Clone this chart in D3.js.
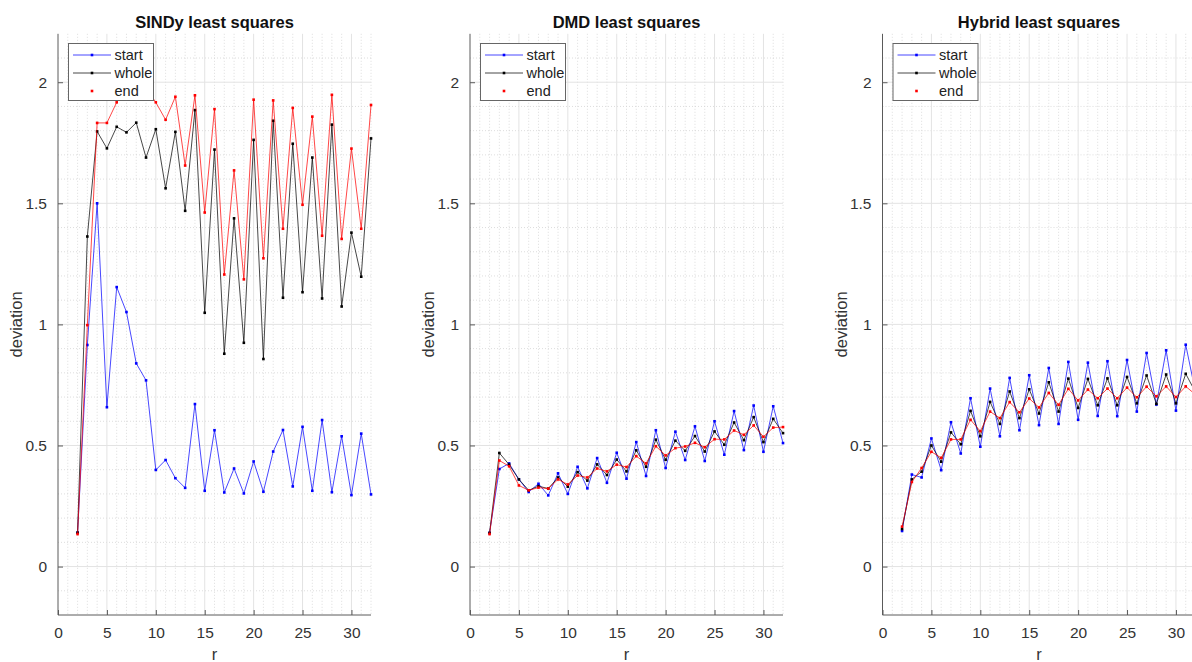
<!DOCTYPE html>
<html>
<head>
<meta charset="utf-8">
<script src="https://cdn.jsdelivr.net/npm/d3@7"></script>
<style>
  body { margin: 0; background: #fff; }
  svg { display: block; font-family: "Liberation Sans", Arial, sans-serif; }
</style>
</head>
<body>
<div class="fig"></div>
<script>
// r values 2..32
const rValues = [2,3,4,5,6,7,8,9,10,11,12,13,14,15,16,17,18,19,20,21,22,23,24,25,26,27,28,29,30,31,32];

// SINDy least squares
const sindyStart = [0.14,0.915,1.50,0.658,1.154,1.051,0.839,0.769,0.399,0.440,0.365,0.325,0.671,0.313,0.563,0.306,0.405,0.302,0.434,0.309,0.475,0.564,0.331,0.577,0.313,0.605,0.307,0.538,0.295,0.549,0.298];
const sindyWhole = [0.14,1.363,1.797,1.727,1.816,1.793,1.833,1.689,1.806,1.562,1.795,1.469,1.885,1.048,1.722,0.879,1.438,0.924,1.762,0.857,1.841,1.110,1.746,1.133,1.689,1.107,1.825,1.074,1.379,1.197,1.768];
const sindyEnd = [0.134,0.997,1.832,1.832,1.917,1.985,2.01,1.975,1.917,1.845,1.940,1.656,1.946,1.462,1.889,1.206,1.636,1.186,1.928,1.273,1.925,1.395,1.894,1.494,1.858,1.366,1.948,1.353,1.726,1.395,1.906];

// DMD least squares
const dmdStart = [0.139,0.403,0.426,0.360,0.308,0.342,0.294,0.385,0.300,0.412,0.323,0.448,0.346,0.470,0.363,0.514,0.374,0.563,0.407,0.557,0.440,0.579,0.436,0.600,0.462,0.642,0.481,0.665,0.474,0.662,0.510];
const dmdWhole = [0.139,0.469,0.421,0.360,0.315,0.332,0.322,0.368,0.330,0.390,0.355,0.422,0.378,0.442,0.393,0.480,0.412,0.524,0.441,0.520,0.478,0.539,0.475,0.558,0.503,0.595,0.522,0.617,0.514,0.610,0.551];
const dmdEnd = [0.134,0.438,0.414,0.335,0.315,0.326,0.322,0.360,0.339,0.376,0.368,0.405,0.393,0.421,0.411,0.456,0.426,0.497,0.459,0.489,0.496,0.511,0.493,0.526,0.525,0.562,0.544,0.583,0.536,0.574,0.576];

// Hybrid least squares
const hybridStart = [0.147,0.380,0.368,0.529,0.398,0.596,0.467,0.695,0.495,0.735,0.538,0.779,0.563,0.790,0.584,0.820,0.589,0.845,0.606,0.842,0.622,0.848,0.621,0.853,0.640,0.882,0.669,0.893,0.644,0.916,0.72];
const hybridWhole = [0.155,0.360,0.392,0.500,0.433,0.554,0.505,0.643,0.538,0.680,0.589,0.723,0.613,0.732,0.632,0.761,0.640,0.776,0.655,0.775,0.666,0.777,0.666,0.783,0.674,0.789,0.672,0.793,0.674,0.796,0.72];
const hybridEnd = [0.165,0.349,0.407,0.474,0.449,0.525,0.525,0.606,0.559,0.640,0.613,0.679,0.637,0.694,0.657,0.717,0.668,0.734,0.686,0.731,0.695,0.735,0.695,0.739,0.699,0.743,0.703,0.744,0.700,0.744,0.71];

const panelTitles = ['SINDy least squares', 'DMD least squares', 'Hybrid least squares'];
const seriesNames = ['start', 'whole', 'end'];
const seriesColors = ['#0000ff', '#000000', '#ff0000'];
const xTicks = [0,5,10,15,20,25,30];
const yTicks = [0,0.5,1,1.5,2];

const panels = [
  [sindyStart, sindyWhole, sindyEnd],
  [dmdStart, dmdWhole, dmdEnd],
  [hybridStart, hybridWhole, hybridEnd]
];

// 画布
const width = 1192, height = 662;
const panelLeft = [58, 470, 882.5];
const panelW = 313;
const plotTop = 33.8, plotBottom = 615;

const svg = d3.select('.fig').append('svg')
  .attr('width', width)
  .attr('height', height);

const y = d3.scaleLinear().domain([-0.2, 2.2]).range([plotBottom, plotTop]);

panels.forEach((series, p) => {
  const x = d3.scaleLinear().domain([0, 32]).range([panelLeft[p], panelLeft[p] + panelW]);
  const g = svg.append('g');

  // minor grid (dotted)
  const minorX = d3.range(1, 33).filter(v => v % 5 !== 0);
  const minorY = d3.range(-1, 22).map(v => v / 10).filter(v => Math.abs(v * 2 - Math.round(v * 2)) > 1e-6);
  g.selectAll('.mx').data(minorX).enter().append('line')
    .attr('x1', d => x(d)).attr('x2', d => x(d))
    .attr('y1', plotTop).attr('y2', plotBottom)
    .attr('stroke', '#d4d4d4').attr('stroke-width', 0.8)
    .attr('stroke-dasharray', '1,2');
  g.selectAll('.my').data(minorY).enter().append('line')
    .attr('x1', x(0)).attr('x2', x(32))
    .attr('y1', d => y(d)).attr('y2', d => y(d))
    .attr('stroke', '#d4d4d4').attr('stroke-width', 0.8)
    .attr('stroke-dasharray', '1,2');

  // major grid
  g.selectAll('.gx').data(xTicks.filter(v => v > 0)).enter().append('line')
    .attr('x1', d => x(d)).attr('x2', d => x(d))
    .attr('y1', plotTop).attr('y2', plotBottom)
    .attr('stroke', '#e3e3e3').attr('stroke-width', 1);
  g.selectAll('.gy').data(yTicks).enter().append('line')
    .attr('x1', x(0)).attr('x2', x(32))
    .attr('y1', d => y(d)).attr('y2', d => y(d))
    .attr('stroke', '#e3e3e3').attr('stroke-width', 1);

  // axes (ticks inward)
  const xAxis = g.append('g').attr('transform', `translate(0,${plotBottom})`)
    .call(d3.axisBottom(x).tickValues(xTicks).tickSize(-5).tickPadding(12).tickFormat(d3.format('d')));
  const yAxis = g.append('g').attr('transform', `translate(${x(0)},0)`)
    .call(d3.axisLeft(y).tickValues(yTicks).tickSize(-5).tickPadding(11).tickFormat(d => d));
  [xAxis, yAxis].forEach(a => {
    a.select('.domain').attr('stroke', '#5a5a5a');
    a.selectAll('.tick line').attr('stroke', '#5a5a5a');
    a.selectAll('.tick text').attr('fill', '#333').style('font-size', '15.5px')
      .style('font-family', '"Liberation Sans", Arial, sans-serif');
  });
  xAxis.select('.domain').attr('d', `M${x(0)},0H${x(32)}`);
  yAxis.select('.domain').attr('d', `M0,${plotBottom}V${plotTop}`);

  // lines
  series.forEach((vals, s) => {
    const pts = rValues.map((r, i) => [r, vals[i]]);
    const line = d3.line().x(d => x(d[0])).y(d => y(d[1]));
    g.append('path').datum(pts)
      .attr('d', line)
      .attr('fill', 'none')
      .attr('stroke', seriesColors[s])
      .attr('stroke-width', 0.9)
      .attr('stroke-opacity', 0.8);
    g.selectAll('.m' + s).data(pts).enter().append('rect')
      .attr('x', d => x(d[0]) - 1.3).attr('y', d => y(d[1]) - 1.3)
      .attr('width', 2.6).attr('height', 2.6)
      .attr('fill', seriesColors[s]);
  });

  // title
  g.append('text')
    .attr('x', panelLeft[p] + panelW / 2).attr('y', 28)
    .attr('text-anchor', 'middle')
    .style('font-size', '16.5px').style('font-weight', 'bold')
    .attr('fill', '#111')
    .text(panelTitles[p]);

  // axis labels
  g.append('text')
    .attr('x', panelLeft[p] + panelW / 2).attr('y', 660)
    .attr('text-anchor', 'middle')
    .style('font-size', '16.5px').attr('fill', '#333')
    .text('r');
  g.append('text')
    .attr('transform', `translate(${panelLeft[p] - 36},${(plotTop + plotBottom) / 2}) rotate(-90)`)
    .attr('text-anchor', 'middle')
    .style('font-size', '16.5px').attr('fill', '#333')
    .text('deviation');

  // legend
  const lx = panelLeft[p] + 10.5, ly = 43.5;
  const lg = g.append('g').attr('transform', `translate(${lx},${ly})`);
  lg.append('rect').attr('width', 85).attr('height', 57)
    .attr('fill', '#fff').attr('stroke', '#666').attr('stroke-width', 1);
  seriesNames.forEach((name, s) => {
    const yy = 11.5 + s * 18;
    if (s < 2) {
      lg.append('line').attr('x1', 4.5).attr('x2', 42.5).attr('y1', yy).attr('y2', yy)
        .attr('stroke', seriesColors[s]).attr('stroke-width', 0.9).attr('stroke-opacity', 0.8);
    }
    lg.append('rect').attr('x', 23.5 - 1.3).attr('y', yy - 1.3).attr('width', 2.6).attr('height', 2.6)
      .attr('fill', seriesColors[s]);
    lg.append('text').attr('x', 46).attr('y', yy + 5)
      .style('font-size', '14.5px').attr('fill', '#222')
      .text(name);
  });
});
</script>
</body>
</html>
